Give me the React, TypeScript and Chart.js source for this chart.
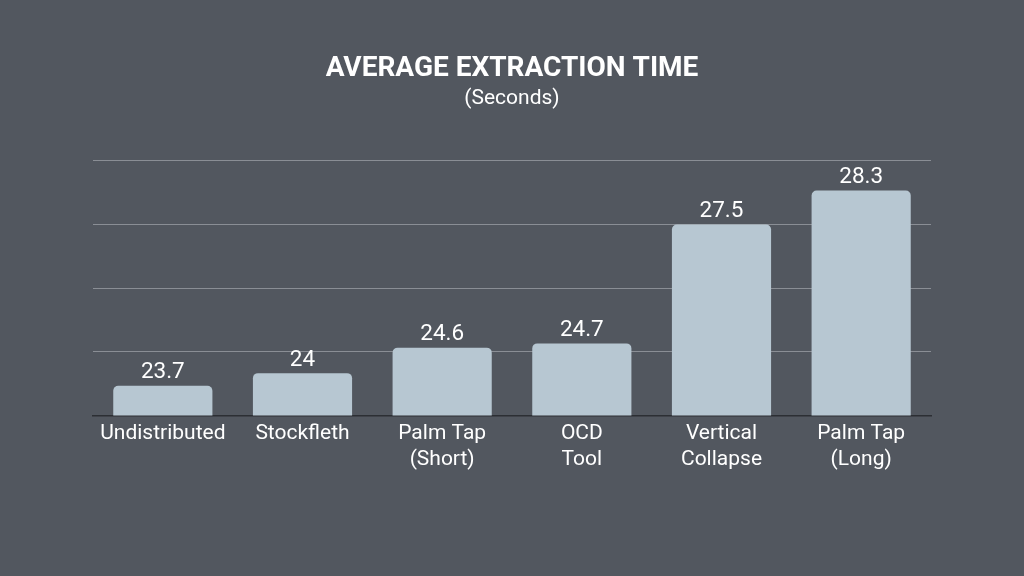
import React, { useEffect, useRef } from "react";
import { Chart, registerables } from "chart.js";

Chart.register(...registerables);

const categories: (string | string[])[] = [
  "Undistributed",
  "Stockfleth",
  ["Palm Tap", "(Short)"],
  ["OCD", "Tool"],
  ["Vertical", "Collapse"],
  ["Palm Tap", "(Long)"],
];
const values: number[] = [23.7, 24, 24.6, 24.7, 27.5, 28.3];
const valueLabels: string[] = ["23.7", "24", "24.6", "24.7", "27.5", "28.3"];
const yMin = 23;
const yMax = 29;
const yStep = 1.5;

const BG = "#52575f";
const BAR = "#b7c7d2";
const FONT = "Roboto, 'Noto Sans', sans-serif";

export default function App() {
  const ref = useRef<HTMLCanvasElement | null>(null);
  useEffect(() => {
    if (!ref.current) return;
    const valuePlugin = {
      id: "valueLabels",
      afterDatasetsDraw(chart: any) {
        const ctx = chart.ctx;
        const meta = chart.getDatasetMeta(0);
        ctx.save();
        ctx.fillStyle = "#ffffff";
        ctx.font = `400 22.5px ${FONT}`;
        ctx.textAlign = "center";
        ctx.textBaseline = "middle";
        meta.data.forEach((el: any, i: number) => {
          ctx.fillText(valueLabels[i], el.x, el.y - 13);
        });
        ctx.restore();
      },
    };
    const chart = new Chart(ref.current, {
      type: "bar",
      data: {
        labels: categories,
        datasets: [
          {
            data: values,
            backgroundColor: BAR,
            borderRadius: 5,
            borderSkipped: "bottom",
            barPercentage: 0.71,
            categoryPercentage: 1,
          },
        ],
      },
      options: {
        responsive: false,
        animation: false,
        layout: { padding: { left: 93, right: 93, top: 0, bottom: 98 } },
        plugins: {
          legend: { display: false },
          tooltip: { enabled: false },
          title: {
            display: true,
            text: "AVERAGE EXTRACTION TIME",
            color: "#ffffff",
            font: { family: FONT, size: 28, weight: "bold", lineHeight: 1.2 },
            padding: { top: 52, bottom: 0 },
          },
          subtitle: {
            display: true,
            text: "(Seconds)",
            color: "#ffffff",
            font: { family: FONT, size: 21, weight: "normal", lineHeight: 1.2 },
            padding: { top: 1, bottom: 49 },
          },
        },
        scales: {
          x: {
            grid: { display: false, drawTicks: false },
            border: { display: true, color: "#2c2f34", width: 1.5 },
            ticks: {
              color: "#ffffff",
              font: { family: FONT, size: 21, lineHeight: 1.2 },
              padding: 6,
              maxRotation: 0,
              autoSkip: false,
            },
          },
          y: {
            min: yMin,
            max: yMax,
            ticks: { display: false, stepSize: yStep },
            grid: { color: "#8a8e95", drawTicks: false, lineWidth: 1 },
            border: { display: false },
          },
        },
      },
      plugins: [valuePlugin],
    });
    return () => chart.destroy();
  }, []);
  return (
    <div
      style={{
        position: "fixed",
        left: 0,
        top: 0,
        width: 1024,
        height: 576,
        background: BG,
      }}
    >
      <canvas ref={ref} width={1024} height={576} style={{ display: "block" }} />
    </div>
  );
}
